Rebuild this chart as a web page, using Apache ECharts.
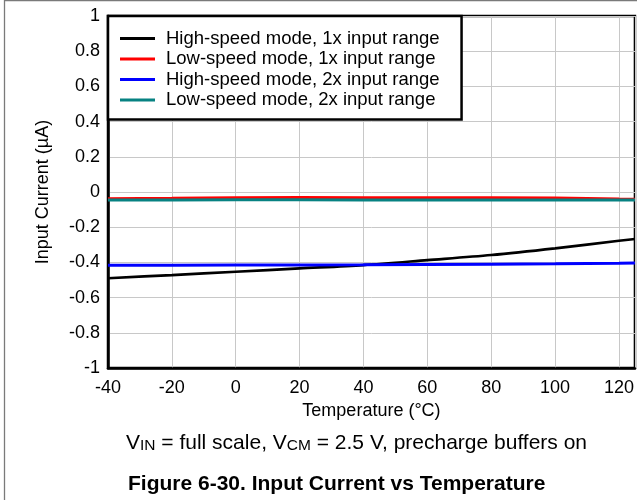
<!DOCTYPE html>
<html>
<head>
<meta charset="utf-8">
<script src="https://cdn.jsdelivr.net/npm/echarts@6/dist/echarts.min.js"></script>
<style>
html,body{margin:0;padding:0;background:#fff;}
#chart{width:637px;height:500px;}
</style>
</head>
<body>
<div id="chart"></div>
<script>
// Data
var temperatures = [-40, -20, 0, 20, 40, 60, 80, 100, 120, 125];
var highSpeed1x = [-0.49, -0.472, -0.453, -0.434, -0.415, -0.387, -0.358, -0.32, -0.277, -0.267];
var lowSpeed1x  = [-0.038, -0.036, -0.033, -0.031, -0.032, -0.033, -0.032, -0.034, -0.04, -0.041];
var highSpeed2x = [-0.416, -0.416, -0.415, -0.415, -0.414, -0.412, -0.41, -0.408, -0.405, -0.404];
var lowSpeed2x  = [-0.045, -0.045, -0.044, -0.044, -0.045, -0.045, -0.045, -0.045, -0.045, -0.045];
var seriesNames = ['High-speed mode, 1x input range', 'Low-speed mode, 1x input range',
                   'High-speed mode, 2x input range', 'Low-speed mode, 2x input range'];
var seriesColors = ['#000000', '#ff0000', '#0000ff', '#078282'];

function pairs(ys) { return temperatures.map(function (t, i) { return [t, ys[i]]; }); }

var FONT = "'Liberation Sans', Arial, sans-serif";
var chart = echarts.init(document.getElementById('chart'), null, {renderer: 'canvas'});
var allData = [highSpeed1x, lowSpeed1x, highSpeed2x, lowSpeed2x];
var widths = [2.7, 3, 3, 3];

chart.setOption({
  animation: false,
  backgroundColor: '#fff',
  textStyle: {fontFamily: FONT},
  grid: {left: 108, top: 16, width: 530, height: 352, show: true, borderColor: '#000', borderWidth: 2.5, backgroundColor: 'transparent'},
  xAxis: {
    type: 'value', min: -40, max: 125, interval: 20,
    name: 'Temperature (°C)', nameLocation: 'middle', nameGap: 31,
    nameTextStyle: {fontSize: 18, color: '#000', fontFamily: FONT},
    axisLine: {show: true, onZero: false, lineStyle: {color: '#000', width: 2.5}},
    axisTick: {show: false},
    axisLabel: {fontSize: 18, color: '#000', fontFamily: FONT, margin: 11, showMaxLabel: false,
      formatter: function (v) { return v === 125 ? '' : String(v); }},
    splitLine: {show: true, lineStyle: {color: '#c8c8c8', width: 1}}
  },
  yAxis: {
    type: 'value', min: -1, max: 1, interval: 0.2,
    name: 'Input Current (µA)', nameLocation: 'middle', nameGap: 56,
    nameTextStyle: {fontSize: 18, color: '#000', fontFamily: FONT},
    axisLine: {show: true, onZero: false, lineStyle: {color: '#000', width: 2.5}},
    axisTick: {show: false},
    axisLabel: {fontSize: 18, color: '#000', fontFamily: FONT, margin: 8,
      formatter: function (v) { return String(Math.round(v * 10) / 10); }},
    splitLine: {show: true, lineStyle: {color: '#c8c8c8', width: 1}}
  },
  legend: {
    orient: 'vertical', left: 108, top: 16,
    data: seriesNames,
    icon: 'rect', itemWidth: 35, itemHeight: 3, itemGap: 1.5,
    padding: [13, 22, 10, 12],
    backgroundColor: '#fff', borderColor: '#000', borderWidth: 2.5,
    textStyle: {fontSize: 18.5, color: '#000', fontFamily: FONT, padding: [0, 0, 0, 6]}
  },
  title: [{
    text: '{m|V}{s|IN}{m| = full scale, V}{s|CM}{m| = 2.5 V, precharge buffers on}',
    left: 126, top: 433, padding: 0,
    textStyle: {fontWeight: 'normal', rich: {
      m: {fontSize: 21, lineHeight: 21, fontWeight: 'normal', color: '#000', fontFamily: FONT, verticalAlign: 'top'},
      s: {fontSize: 15.5, lineHeight: 15, fontWeight: 'normal', color: '#000', fontFamily: FONT, verticalAlign: 'bottom', padding: [11, 0, 0, 0]}
    }}
  }, {
    text: 'Figure 6-30. Input Current vs Temperature',
    left: 128, top: 474, padding: 0,
    textStyle: {fontSize: 21, fontWeight: 'bold', color: '#000', fontFamily: FONT}
  }],
  graphic: [{
    type: 'rect', silent: true, z: -10,
    shape: {x: 4.5, y: 0.5, width: 700, height: 600},
    style: {fill: 'none', stroke: '#7a7a7a', lineWidth: 1.3}
  }],
  series: allData.map(function (ys, i) {
    return {
      name: seriesNames[i], type: 'line', data: pairs(ys),
      showSymbol: false, symbol: 'none', smooth: i === 0 ? 0.3 : false,
      color: seriesColors[i],
      lineStyle: {color: seriesColors[i], width: widths[i]},
      z: 2 + i
    };
  })
});
</script>
</body>
</html>
